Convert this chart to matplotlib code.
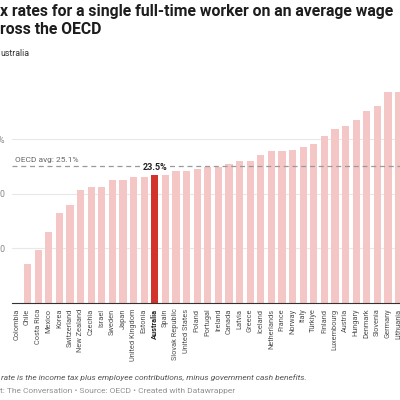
import matplotlib
matplotlib.use("Agg")
import matplotlib.pyplot as plt

plt.rcParams['font.family'] = ['Roboto', 'DejaVu Sans']

# tax rate (%) for a single worker on an average wage
countries = ["Colombia", "Chile", "Costa Rica", "Mexico", "Korea", "Switzerland",
             "New Zealand", "Czechia", "Israel", "Sweden", "Japan", "United Kingdom",
             "Estonia", "Australia", "Spain", "Slovak Republic", "United States",
             "Poland", "Portugal", "Ireland", "Canada", "Latvia", "Greece", "Iceland",
             "Netherlands", "France", "Norway", "Italy", "Türkiye", "Finland",
             "Luxembourg", "Austria", "Hungary", "Denmark", "Slovenia", "Germany",
             "Lithuania"]
rates = [0.0, 7.2, 9.7, 13.0, 16.5, 18.0,
         20.7, 21.2, 21.3, 22.6, 22.6, 23.1,
         23.2, 23.5, 23.5, 24.2, 24.3,
         24.5, 24.9, 25.0, 25.5, 26.0, 26.1, 27.1,
         27.9, 27.9, 28.1, 28.6, 29.2, 30.7,
         31.9, 32.5, 33.5, 35.3, 36.2, 38.7,
         38.7]
oecd_avg = 25.1
highlight = "Australia"
yticks = [10, 20, 30]
ytick_labels = ["10.0", "20.0", "30.0%"]

pink = "#f4c6c6"
red = "#d2342c"

fig = plt.figure(figsize=(4, 4), dpi=100)
# the picture is a crop of a wider chart, so the axes run off the right edge
ax = fig.add_axes([12 / 400, 97 / 400, 388 / 400, 218 / 400])

x = list(range(len(countries)))
colors = [red if c == highlight else pink for c in countries]
ax.bar(x, rates, width=0.69, color=colors, zorder=2)

ax.set_xlim(-0.47, -0.47 + 388 / 10.6)
ax.set_ylim(0, 40)

ax.set_yticks(yticks)
ax.set_yticklabels(ytick_labels)
ax.tick_params(axis="y", length=0, pad=5, labelsize=6.3, labelcolor="#888888")
ax.grid(axis="y", color="#e8e8e8", lw=0.8, zorder=0)

ax.set_xticks(x)
ax.set_xticklabels(countries, rotation=90, fontsize=5.3, color="#505050")
ax.tick_params(axis="x", length=0, pad=4)
for lbl in ax.get_xticklabels():
    if lbl.get_text() == highlight:
        lbl.set_fontweight("bold")
        lbl.set_color("#222222")

for side in ["top", "right", "left"]:
    ax.spines[side].set_visible(False)
ax.spines["bottom"].set_color("#333333")
ax.spines["bottom"].set_linewidth(0.8)

# OECD average line
ax.axhline(oecd_avg, color="#999999", lw=0.9, ls=(0, (4, 3)), zorder=3)
ax.text(-0.2, oecd_avg + 0.6, "OECD avg: %.1f%%" % oecd_avg, fontsize=6,
        color="#666666", va="bottom", ha="left")

i = countries.index(highlight)
ax.text(i, oecd_avg - 0.3, "%.1f%%" % rates[i], fontsize=6.5, fontweight="bold",
        color="#222222", ha="center", va="center", zorder=4,
        bbox=dict(facecolor="white", edgecolor="none", pad=1))

# title block and footer (cut off at the left edge of the crop)
fig.text(0.0, 1 - 4 / 400,
         "x rates for a single full-time worker on an average wage\nross the OECD",
         fontsize=11.3, fontweight="bold", color="#1d1d1d", va="top", ha="left",
         linespacing=1.25)
fig.text(0.0, 1 - 53 / 400, "ustralia", fontsize=6.3, color="#333333",
         va="center", ha="left")
fig.text(0.003, 1 - 378 / 400,
         "rate is the income tax plus employee contributions, minus government cash benefits.",
         fontsize=6, style="italic", color="#555555", va="center", ha="left")
fig.text(0.0, 1 - 391 / 400,
         "t: The Conversation \u2022 Source: OECD \u2022 Created with Datawrapper",
         fontsize=6, color="#909090", va="center", ha="left")

fig.savefig("out.png", dpi=100)
